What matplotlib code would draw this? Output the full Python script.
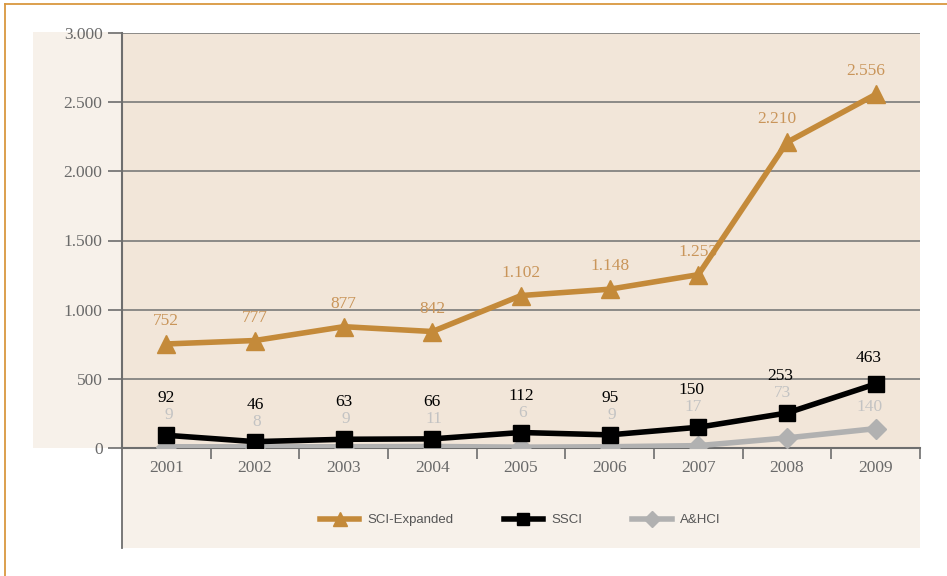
import matplotlib.pyplot as plt
from matplotlib.patches import Rectangle
from matplotlib.lines import Line2D
from matplotlib.ticker import FuncFormatter, FixedLocator

# data
years = ['2001', '2002', '2003', '2004', '2005', '2006', '2007', '2008', '2009']
sci_expanded = [752, 777, 877, 842, 1102, 1148, 1253, 2210, 2556]
ssci = [92, 46, 63, 66, 112, 95, 150, 253, 463]
ahci = [9, 8, 9, 11, 6, 9, 17, 73, 140]

W, H = 947, 576
fig = plt.figure(figsize=(W / 100, H / 100), dpi=100)
fig.patch.set_facecolor('white')

def px(x0, y0, x1, y1):
    # pixel box (top-left origin) -> figure fraction rect
    return (x0 / W, 1 - y1 / H, (x1 - x0) / W, (y1 - y0) / H)

# background panels
for (x0, y0, x1, y1), col in [((33, 32, 122, 448), '#f7f1ea'),
                              ((122, 448, 920, 548), '#f7f1ea')]:
    l, b, w, h = px(x0, y0, x1, y1)
    fig.add_artist(Rectangle((l, b), w, h, transform=fig.transFigure,
                             facecolor=col, edgecolor='none', zorder=0))

# orange frame lines
fig.add_artist(Line2D([5 / W, 1], [1 - 4 / H, 1 - 4 / H], transform=fig.transFigure,
                      color='#d9973f', lw=1.3))
fig.add_artist(Line2D([5 / W, 5 / W], [0, 1 - 4 / H], transform=fig.transFigure,
                      color='#d9973f', lw=1.3))
# extended left axis line
fig.add_artist(Line2D([122 / W, 122 / W], [1 - 548 / H, 1 - 448 / H], transform=fig.transFigure,
                      color='#6e6e6e', lw=1.3))

ax = fig.add_axes(px(122, 33, 920, 448))
ax.set_facecolor('#f2e6d9')

x = list(range(len(years)))
sci_col = '#c48a3a'
ahci_col = '#b1b1b1'

ax.plot(x, ahci, color=ahci_col, lw=4, marker='D', ms=10, zorder=3, label='A&HCI')
ax.plot(x, ssci, color='black', lw=4, marker='s', ms=11, zorder=4, label='SSCI')
ax.plot(x, sci_expanded, color=sci_col, lw=4, marker='^', ms=13, zorder=5,
        label='SCI-Expanded')

def fmt(v):
    return f'{v:,}'.replace(',', '.')

lab_font = dict(family='Liberation Serif', fontsize=12.5, ha='center', va='center')
n = len(years)
for i, v in enumerate(sci_expanded):
    dx = -10 if i >= n - 2 else 0
    ax.annotate(fmt(v), (i, v), xytext=(dx, 23), textcoords='offset pixels',
                color='#c9955a', **lab_font)
for i, v in enumerate(ssci):
    off = 37 if i < n - 1 else 26
    dx = -7 if i >= n - 3 else 0
    ax.annotate(fmt(v), (i, v), xytext=(dx, off), textcoords='offset pixels',
                color='black', **lab_font)
    # gray A&HCI label sits just under the SSCI label (last one above its own point)
    if i < n - 1:
        ax.annotate(fmt(ahci[i]), (i, v), xytext=(dx + 2, off - 17), textcoords='offset pixels',
                    color='#c3c3c3', **lab_font)
    else:
        ax.annotate(fmt(ahci[i]), (i, ahci[i]), xytext=(-6, 22), textcoords='offset pixels',
                    color='#c3c3c3', **lab_font)

ax.set_xlim(-0.5, n - 0.5)
ax.set_ylim(0, 3000)
ax.set_yticks(range(0, 3001, 500))
ax.yaxis.set_major_formatter(FuncFormatter(lambda v, p: fmt(int(v))))
ax.grid(axis='y', color='#7a7a7a', lw=1.2)
ax.set_axisbelow(True)

ax.set_xticks(x)
ax.set_xticklabels(years)
ax.xaxis.set_minor_locator(FixedLocator([i + 0.5 for i in range(n)]))
ax.tick_params(axis='x', which='major', length=0, pad=9)
ax.tick_params(axis='x', which='minor', length=8, color='#6e6e6e', width=1.2, direction='out')
ax.tick_params(axis='y', length=10, color='#6e6e6e', width=1.2, pad=4)
for lab in ax.get_xticklabels() + ax.get_yticklabels():
    lab.set_family('Liberation Serif')
    lab.set_fontsize(12.5)
    lab.set_color('#6a6a6a')

for s in ['top', 'right']:
    ax.spines[s].set_visible(False)
for s in ['left', 'bottom']:
    ax.spines[s].set_color('#6e6e6e')
    ax.spines[s].set_linewidth(1.5)
ax.spines['bottom'].set_zorder(2)

handles, labels = ax.get_legend_handles_labels()
leg = fig.legend(handles[::-1], labels[::-1], loc='center', bbox_to_anchor=(520 / W, 1 - 520 / H),
                 ncol=3, frameon=False, handlelength=3, columnspacing=3.8, markerscale=0.8,
                 handletextpad=0.6, prop={'family': 'Liberation Sans', 'size': 9.5})
for t in leg.get_texts():
    t.set_color('#555555')

fig.savefig('out.png', dpi=100)
